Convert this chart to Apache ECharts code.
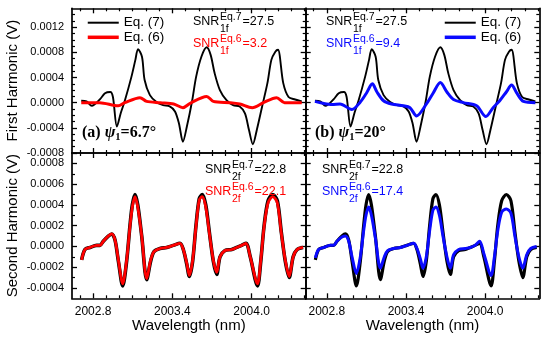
<!DOCTYPE html>
<html><head><meta charset="utf-8">
<script src="https://cdn.jsdelivr.net/npm/echarts@6/dist/echarts.min.js"></script>
<style>html,body{margin:0;padding:0;background:#fff}#c{width:550px;height:339px}</style>
</head><body><div id="c"></div>
<script>
// ---------------- data ----------------
const wl1f = [2002.71, 2002.75, 2002.79, 2002.85, 2002.89, 2002.93, 2002.95, 2002.98, 2003.01, 2003.04, 2003.09, 2003.12, 2003.14, 2003.17, 2003.19, 2003.23, 2003.28, 2003.33, 2003.38, 2003.42, 2003.45, 2003.48, 2003.51, 2003.55, 2003.58, 2003.62, 2003.66, 2003.69, 2003.72, 2003.76, 2003.81, 2003.86, 2003.91, 2003.95, 2003.98, 2004.01, 2004.04, 2004.08, 2004.12, 2004.15, 2004.18, 2004.20, 2004.24, 2004.28, 2004.33, 2004.38];
const eq7_1f = [0.00003, 0.00002, -0.00005, 0.00005, 0.00015, 0.00017, 0.00009, -0.00038, -0.00016, 0.00003, 0.00041, 0.00068, 0.00085, 0.00073, 0.00036, 0.00012, 0.00001, -0.00004, -0.00006, -0.00014, -0.00033, -0.00062, -0.00038, 0.00003, 0.00041, 0.00073, 0.00088, 0.00076, 0.00047, 0.0002, 0.00004, -0.00004, -0.00006, -0.00017, -0.00043, -0.00066, -0.00043, -0.00006, 0.00031, 0.00068, 0.00081, 0.00084, 0.00031, 0.00009, 0.00005, 0.00002];

const wlRed1f = [2002.71, 2002.85, 2002.99, 2003.04, 2003.155, 2003.205, 2003.31, 2003.41, 2003.48, 2003.535, 2003.66, 2003.71, 2003.84, 2003.91, 2004.005, 2004.09, 2004.19, 2004.25, 2004.38];
const eq6a_1f = [0, 0, -0.00005, 0, 0.00008, 0.00002, 0, -0.00002, -0.00008, -0.00001, 0.0001, 0.00002, 0, -0.00002, -0.00008, 0, 0.00008, 0, 0];

const wlBlue1f = [2002.71, 2002.77, 2002.84, 2002.90, 2002.99, 2003.05, 2003.10, 2003.145, 2003.18, 2003.23, 2003.29, 2003.38, 2003.43, 2003.48, 2003.555, 2003.605, 2003.66, 2003.71, 2003.76, 2003.835, 2003.935, 2004.005, 2004.06, 2004.11, 2004.16, 2004.20, 2004.24, 2004.29, 2004.38];
const eq6b_1f = [0.00002, -0.00001, -0.00003, -0.00002, -0.00011, 0, 0.00015, 0.0003, 0.00017, 0.00003, -0.00002, -0.00005, -0.00008, -0.00021, -0.00002, 0.00015, 0.00032, 0.00017, 0.00005, 0, -0.00005, -0.00022, -0.00008, 0.00003, 0.00017, 0.00028, 0.00015, 0.00002, 0];

const wl2f = [2002.713, 2002.738, 2002.776, 2002.827, 2002.852, 2002.877, 2002.915, 2002.941, 2002.966, 2002.991, 2003.024, 2003.054, 2003.079, 2003.097, 2003.117, 2003.138, 2003.168, 2003.206, 2003.236, 2003.261, 2003.307, 2003.357, 2003.407, 2003.458, 2003.483, 2003.509, 2003.529, 2003.554, 2003.579, 2003.604, 2003.627, 2003.653, 2003.680, 2003.710, 2003.736, 2003.761, 2003.799, 2003.850, 2003.887, 2003.925, 2003.958, 2003.990, 2004.045, 2004.070, 2004.095, 2004.125, 2004.160, 2004.195, 2004.225, 2004.255, 2004.285, 2004.315, 2004.345, 2004.390];
const eq7_2f = [-0.00013, -0.00003, -0.00001, 0.00001, 0.00001, 0.00005, 0.0001, 0.00012, 0.00006, -0.00014, -0.00038, -0.00014, 0.0002, 0.0004, 0.0005, 0.0004, 0.0001, -0.00032, -0.00014, -0.00005, -0.00002, -0.00001, 0.00001, 0.00003, -0.00003, -0.00017, -0.00029, -0.00014, 0.0002, 0.00046, 0.0005, 0.0004, 0.00014, -0.00014, -0.00027, -0.0001, -0.00004, -0.00003, -0.00001, 0.00001, 0.00003, -0.0001, -0.00038, -0.00014, 0.0002, 0.00044, 0.0005, 0.00044, 0.00014, -0.00014, -0.0003, -0.0001, -0.00003, -0.00001];
const eq6a_2f = [-0.00013, -0.00003, -0.00001, 0.00001, 0.00001, 0.00005, 0.0001, 0.00012, 0.00006, -0.00013, -0.00036, -0.00013, 0.00019, 0.00038, 0.00048, 0.00038, 0.0001, -0.00031, -0.00013, -0.00005, -0.00002, -0.00001, 0.00001, 0.00003, -0.00003, -0.00016, -0.00028, -0.00013, 0.00019, 0.00045, 0.00048, 0.00038, 0.00013, -0.00013, -0.00025, -0.0001, -0.00004, -0.00003, -0.00001, 0.00001, 0.00003, -0.0001, -0.00036, -0.00013, 0.00019, 0.00042, 0.00048, 0.00042, 0.00013, -0.00013, -0.00029, -0.0001, -0.00003, -0.00001];
const eq6b_2f = [-0.00011, -0.00003, -0.00001, 0.00001, 0.00001, 0.00005, 0.00009, 0.0001, 0.00005, -0.0001, -0.00026, -0.0001, 0.00015, 0.0003, 0.00038, 0.0003, 0.00008, -0.00021, -0.0001, -0.00004, -0.00002, -0.00001, 0.00001, 0.00003, -0.00002, -0.00012, -0.00021, -0.0001, 0.00015, 0.00035, 0.00038, 0.0003, 0.0001, -0.0001, -0.00021, -0.00008, -0.00003, -0.00002, -0.00001, 0.00001, 0.00005, -0.00007, -0.00028, -0.0001, 0.00015, 0.00033, 0.00036, 0.00032, 0.0001, -0.0001, -0.00021, -0.00008, -0.00002, 0];

// tick values / labels
const xMajorTicks = [2002.8, 2003.4, 2004.0];
const xMinorTicks = [2002.7, 2002.9, 2003.0, 2003.1, 2003.2, 2003.3, 2003.5, 2003.6, 2003.7, 2003.8, 2003.9, 2004.1, 2004.2, 2004.3, 2004.4];
const y1MajorTicks = [-0.0008, -0.0004, 0, 0.0004, 0.0008, 0.0012];
const y1MinorTicks = [-0.0007, -0.0006, -0.0005, -0.0003, -0.0002, -0.0001, 0.0001, 0.0002, 0.0003, 0.0005, 0.0006, 0.0007, 0.0009, 0.0010, 0.0011, 0.0013, 0.0014];
const y2MajorTicks = [-0.0004, -0.0002, 0, 0.0002, 0.0004, 0.0006, 0.0008];
const y2MinorTicks = [-0.0003, -0.0001, 0.0001, 0.0003, 0.0005, 0.0007];

// ---------------- layout & style ----------------
const FONT = "'Liberation Sans', Arial, sans-serif";
const SERIF = "'Liberation Serif', 'Times New Roman', serif";
const xRange = [2002.64, 2004.41];
const y1Range = [-0.0008, 0.0015];
const y2Range = [-0.0005, 0.0009];

const grids = [
  {left: 72, top: 8.3, width: 233.7, height: 144.7},
  {left: 305.7, top: 8.3, width: 233.6, height: 144.7},
  {left: 72, top: 153, width: 233.7, height: 145.3},
  {left: 305.7, top: 153, width: 233.6, height: 145.3}
];

const AXC = '#000';
const xAxes = [], yAxes = [];
function addX(g, pos, labels, name) {
  const idx = xAxes.length;
  xAxes.push({
    gridIndex: g, type: 'value', position: pos, min: xRange[0], max: xRange[1],
    axisLine: {show: true, onZero: false, lineStyle: {color: AXC, width: 1.7}},
    axisTick: {show: true, inside: true, length: 5, customValues: xMajorTicks, lineStyle: {color: AXC, width: 1.3}},
    axisLabel: {show: labels, customValues: xMajorTicks, formatter: v => v.toFixed(1), margin: 7, fontSize: 12, fontFamily: FONT, color: '#000'},
    splitLine: {show: false},
    name: name || '', nameLocation: 'middle', nameGap: 20,
    nameTextStyle: {fontSize: 15, fontFamily: FONT, color: '#000'}
  });
  xAxes.push({
    gridIndex: g, type: 'value', position: pos, min: xRange[0], max: xRange[1],
    axisLine: {show: false, onZero: false},
    axisTick: {show: true, inside: true, length: 3, customValues: xMinorTicks, lineStyle: {color: AXC, width: 1.2}},
    axisLabel: {show: false}, splitLine: {show: false}
  });
  return idx;
}
function addY(g, pos, range, major, minor, labels, name) {
  const idx = yAxes.length;
  yAxes.push({
    gridIndex: g, type: 'value', position: pos, min: range[0], max: range[1],
    axisLine: {show: true, onZero: false, lineStyle: {color: AXC, width: 1.7}},
    axisTick: {show: true, inside: true, length: 5, customValues: major, lineStyle: {color: AXC, width: 1.3}},
    axisLabel: {show: labels, customValues: major, formatter: v => v.toFixed(4), margin: 8, fontSize: 11, fontFamily: FONT, color: '#000'},
    splitLine: {show: false},
    name: name || '', nameLocation: 'middle', nameGap: 52,
    nameTextStyle: {fontSize: 15, fontFamily: FONT, color: '#000'}
  });
  yAxes.push({
    gridIndex: g, type: 'value', position: pos, min: range[0], max: range[1],
    axisLine: {show: false, onZero: false},
    axisTick: {show: true, inside: true, length: 3, customValues: minor, lineStyle: {color: AXC, width: 1.2}},
    axisLabel: {show: false}, splitLine: {show: false}
  });
  return idx;
}

const panels = [];
for (let g = 0; g < 4; g++) {
  const bottomRow = g >= 2, leftCol = (g % 2) === 0;
  const yr = bottomRow ? y2Range : y1Range;
  const yMaj = bottomRow ? y2MajorTicks : y1MajorTicks;
  const yMin = bottomRow ? y2MinorTicks : y1MinorTicks;
  const xi = addX(g, 'bottom', bottomRow, bottomRow ? 'Wavelength (nm)' : '');
  addX(g, 'top', false, '');
  const yi = addY(g, 'left', yr, yMaj, yMin, leftCol, leftCol ? (bottomRow ? 'Second Harmonic (V)' : 'First Harmonic (V)') : '');
  addY(g, 'right', yr, yMaj, yMin, false, '');
  panels.push({xi, yi});
}

function pairs(xs, ys) { return xs.map((x, i) => [x, ys[i]]); }
function line(name, p, xs, ys, color, width, z) {
  return {
    name, type: 'line', xAxisIndex: panels[p].xi, yAxisIndex: panels[p].yi,
    data: pairs(xs, ys), symbol: 'none', showSymbol: false, smooth: 0.3,
    lineStyle: {color, width}, itemStyle: {color}, z, silent: true
  };
}
const RED = '#ff0000', BLUE = '#0a0aff';
const series = [
  line('Eq. (7)', 0, wl1f, eq7_1f, '#000', 1.9, 2),
  line('Eq. (6)', 0, wlRed1f, eq6a_1f, RED, 3, 3),
  line('Eq. (7) b', 1, wl1f, eq7_1f, '#000', 1.9, 2),
  line('Eq. (6) b', 1, wlBlue1f, eq6b_1f, BLUE, 3, 3),
  line('2f Eq. (7) a', 2, wl2f, eq7_2f, '#000', 3.6, 2),
  line('2f Eq. (6) a', 2, wl2f, eq6a_2f, RED, 2.8, 3),
  line('2f Eq. (7) b', 3, wl2f, eq7_2f, '#000', 3.2, 2),
  line('2f Eq. (6) b', 3, wl2f, eq6b_2f, BLUE, 3, 3)
];

const legendText = {fontSize: 13.5, fontFamily: FONT, color: '#000'};
const hiddenSym = {opacity: 0};
const legends = [
  {left: 86, top: 15.7, orient: 'vertical', itemWidth: 31, itemHeight: 14, itemGap: 0.6, padding: 0,
   selectedMode: false, textStyle: legendText,
   data: [{name: 'Eq. (7)', lineStyle: {color: '#000', width: 2}, itemStyle: hiddenSym},
          {name: 'Eq. (6)', lineStyle: {color: RED, width: 3.5}, itemStyle: hiddenSym}]},
  {left: 443, top: 15.7, orient: 'vertical', itemWidth: 31, itemHeight: 14, itemGap: 0.6, padding: 0,
   selectedMode: false, textStyle: legendText,
   formatter: n => n.replace(' b', ''),
   data: [{name: 'Eq. (7) b', lineStyle: {color: '#000', width: 2}, itemStyle: hiddenSym},
          {name: 'Eq. (6) b', lineStyle: {color: BLUE, width: 3.5}, itemStyle: hiddenSym}]}
];

// ---------------- annotations ----------------
const ctx = document.createElement('canvas').getContext('2d');
function tw(text, size, fam, weight) { ctx.font = (weight || '') + ' ' + size + 'px ' + (fam || FONT); return ctx.measureText(text).width; }
function txt(x, y, text, size, color, extra) {
  return {type: 'text', x, y, silent: true, z: 100,
    style: Object.assign({text, fontSize: size, fontFamily: FONT, fill: color, verticalAlign: 'middle', align: 'left'}, extra || {})};
}
const SN = 12.5, SS = 10.5;
function snr(x, yc, sup, sub, val, color) {
  const w1 = tw('SNR', SN);
  const ws = Math.max(tw(sup, SS), tw(sub, SS));
  return [
    txt(x, yc, 'SNR', SN, color),
    txt(x + w1 + 0.5, yc - 4.5, sup, SS, color),
    txt(x + w1 + 0.5, yc + 7.5, sub, SS, color),
    txt(x + w1 + ws + 1.5, yc, '=' + val, SN, color)
  ];
}
function panelLabel(x, yc, tag, val) {
  const B = {fontFamily: SERIF, fontWeight: 'bold'};
  const PS = 16;
  const w1 = tw(tag + ' ', PS, SERIF, 'bold');
  const wp = tw('ψ', PS, SERIF, 'italic bold');
  const ws = tw('1', 10.5, SERIF, 'bold');
  return [
    txt(x, yc, tag + ' ', PS, '#000', B),
    txt(x + w1, yc, 'ψ', PS, '#000', {fontFamily: SERIF, fontWeight: 'bold', fontStyle: 'italic'}),
    txt(x + w1 + wp, yc + 4, '1', 10.5, '#000', B),
    txt(x + w1 + wp + ws, yc, '=' + val, PS, '#000', B)
  ];
}
const graphics = [].concat(
  snr(193, 21.7, 'Eq.7', '1f', '27.5', '#000'),
  snr(193, 43.5, 'Eq.6', '1f', '3.2', RED),
  snr(326, 21.7, 'Eq.7', '1f', '27.5', '#000'),
  snr(326, 43.5, 'Eq.6', '1f', '9.4', BLUE),
  snr(205, 170, 'Eq.7', '2f', '22.8', '#000'),
  snr(205, 192, 'Eq.6', '2f', '22.1', RED),
  snr(322, 170, 'Eq.7', '2f', '22.8', '#000'),
  snr(322, 192, 'Eq.6', '2f', '17.4', BLUE),
  panelLabel(82, 133, '(a)', '6.7°'),
  panelLabel(315, 133, '(b)', '20°')
);

const chart = echarts.init(document.getElementById('c'), null, {renderer: 'canvas'});
chart.setOption({
  animation: false,
  backgroundColor: '#fff',
  grid: grids,
  xAxis: xAxes,
  yAxis: yAxes,
  legend: legends,
  series,
  graphic: {elements: graphics}
});
</script></body></html>
